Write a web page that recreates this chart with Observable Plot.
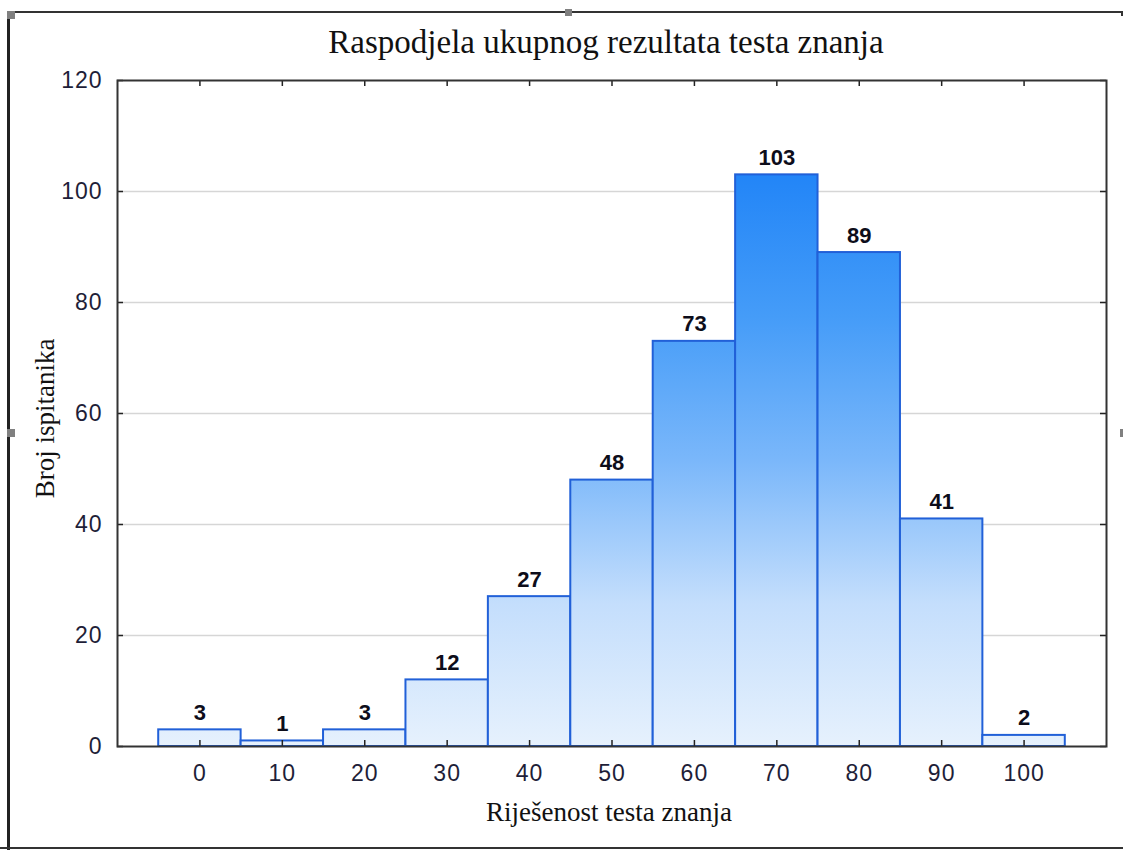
<!DOCTYPE html>
<html>
<head>
<meta charset="utf-8">
<script src="https://cdn.jsdelivr.net/npm/d3@7"></script>
<script src="https://cdn.jsdelivr.net/npm/@observablehq/plot@0.6"></script>
<style>
  body { margin: 0; background: #fff; }
  #wrap { position: relative; width: 1123px; height: 850px; overflow: hidden; }
  #wrap svg { position: absolute; left: 0; top: 0; }
  .ln { position: absolute; background: #333; }
  .hd { position: absolute; background: #808080; }
</style>
</head>
<body>
<div id="wrap">
  <div class="ln" style="left:8px;top:11px;width:1114px;height:1.5px;"></div>
  <div class="ln" style="left:1121px;top:11px;width:1.5px;height:5px;"></div>
  <div class="ln" style="left:7px;top:11px;width:3px;height:839px;background:#222;"></div>
  <div class="ln" style="left:0px;top:847px;width:1123px;height:2px;"></div>
  <div class="hd" style="left:7px;top:11px;width:8px;height:8px;"></div>
  <div class="hd" style="left:565px;top:9px;width:7px;height:7px;"></div>
  <div class="hd" style="left:7px;top:429px;width:8px;height:8px;"></div>
  <div class="hd" style="left:1120px;top:429px;width:3px;height:8px;"></div>
</div>
<script>
// ---- data ----
const binCenters = [0, 10, 20, 30, 40, 50, 60, 70, 80, 90, 100];
const counts     = [3, 1, 3, 12, 27, 48, 73, 103, 89, 41, 2];
const binWidth = 10;
const xTicks = [0, 10, 20, 30, 40, 50, 60, 70, 80, 90, 100];
const yTicks = [0, 20, 40, 60, 80, 100, 120];
const titleText = "Raspodjela ukupnog rezultata testa znanja";
const xLabelText = "Riješenost testa znanja";
const yLabelText = "Broj ispitanika";

// ---- layout ----
const W = 1123, H = 850;
const mT = 80, mL = 117, mR = 17, mB = 104;
const plotH = H - mT - mB, plotW = W - mL - mR;

const data = binCenters.map((c, i) => ({
  center: c, x0: c - binWidth / 2, x1: c + binWidth / 2, count: counts[i]
}));

const serif = "'Liberation Serif', 'Times New Roman', serif";
const sans = "'Liberation Sans', Arial, sans-serif";

const chart = Plot.plot({
  width: W, height: H,
  marginTop: mT, marginLeft: mL, marginRight: mR, marginBottom: mB,
  style: { fontFamily: sans, background: "transparent", color: "#222" },
  x: { domain: [-10, 110] },
  y: { domain: [0, 120] },
  marks: [
    Plot.gridY(yTicks.filter(v => v > 0 && v < 120), { stroke: "#d6d6d6", strokeOpacity: 1, strokeWidth: 1.5 }),
    Plot.rectY(data, { x1: "x0", x2: "x1", y: "count", fill: "url(#barGrad)", stroke: "#2160d8", strokeWidth: 2 }),
    Plot.ruleX(xTicks, { x: d => d, insetTop: plotH - 6, stroke: "#222", strokeWidth: 1.5 }),
    Plot.ruleX(xTicks, { x: d => d, insetBottom: plotH - 6, stroke: "#222", strokeWidth: 1.5 }),
    Plot.ruleY(yTicks, { y: d => d, insetRight: plotW - 6, stroke: "#222", strokeWidth: 1.5 }),
    Plot.ruleY(yTicks, { y: d => d, insetLeft: plotW - 6, stroke: "#222", strokeWidth: 1.5 }),
    Plot.frame({ stroke: "#333", strokeWidth: 2 }),
    Plot.axisX({ ticks: xTicks, tickSize: 0, tickPadding: 18, fontSize: 23, label: null, fill: "#1e1e38" }),
    Plot.axisY({ ticks: yTicks, tickSize: 0, tickPadding: 15, fontSize: 23, label: null, fill: "#1e1e38" }),
    Plot.text(data, { x: "center", y: "count", text: d => String(d.count), dy: -17, fontSize: 22, fontWeight: "bold", fill: "#0d0d1a", ariaLabel: "value-labels" }),
    Plot.text([titleText], { frameAnchor: "top", lineAnchor: "middle", textAnchor: "middle", dy: -38, dx: -6, fontFamily: serif, fontSize: 33, fill: "#111" }),
    Plot.text([xLabelText], { frameAnchor: "bottom", lineAnchor: "middle", textAnchor: "middle", dy: 66, dx: -3, fontFamily: serif, fontSize: 27, fill: "#111" }),
    Plot.text([yLabelText], { frameAnchor: "left", lineAnchor: "middle", textAnchor: "middle", dx: -72, dy: 5, rotate: -90, fontFamily: serif, fontSize: 27, fill: "#111" })
  ]
});

// gradient shared over the whole plot height (user space)
const ys = chart.scale("y");
const svg = d3.select(chart);
const defs = svg.insert("defs", ":first-child");
const lg = defs.append("linearGradient")
  .attr("id", "barGrad")
  .attr("gradientUnits", "userSpaceOnUse")
  .attr("x1", 0).attr("x2", 0)
  .attr("y1", ys.apply(0)).attr("y2", ys.apply(d3.max(counts)));
[[0, "#e6f1fd"], [0.25, "#c4defc"], [0.5, "#7ab7fa"], [0.75, "#459cf8"], [1, "#2285f7"]]
  .forEach(([o, c]) => lg.append("stop").attr("offset", o).attr("stop-color", c));

svg.selectAll('g[aria-label="x-axis tick label"] text, g[aria-label="y-axis tick label"] text, g[aria-label="value-labels"] text')
  .style("letter-spacing", "1px");

document.getElementById("wrap").appendChild(chart);
</script>
</body>
</html>
